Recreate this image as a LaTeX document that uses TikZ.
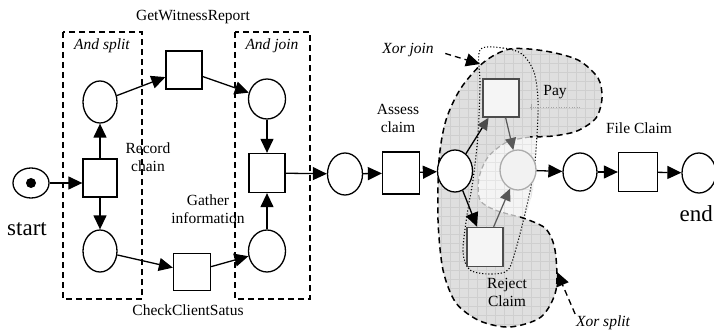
\documentclass[tikz,border=0pt]{standalone}
\usepackage{fontspec}
\setmainfont{Liberation Serif}
\usetikzlibrary{shapes.geometric,arrows.meta}
\begin{document}
\begin{tikzpicture}[x=1pt,y=-1pt,
  place/.style={draw,ellipse,line width=1.3pt,fill=white,minimum width=34pt,minimum height=42pt,inner sep=0pt},
  trans/.style={draw,rectangle,line width=1.3pt,fill=white,minimum width=36pt,minimum height=38pt,inner sep=0pt},
  arr/.style={line width=1.3pt,-{Triangle[length=14pt,width=13pt]}},
  garr/.style={line width=1.2pt,draw=gray!70!black,-{Triangle[length=12pt,width=11pt,color=gray!70!black]}},
  lbl/.style={font=\fontsize{15.5}{18}\selectfont,align=center,inner sep=0pt},
  ilbl/.style={font=\fontsize{15.5}{18}\selectfont\itshape,align=center,inner sep=0pt},
  biglbl/.style={font=\fontsize{23}{26}\selectfont,inner sep=0pt},
  grpbox/.style={draw,line width=1.4pt,dash pattern=on 6pt off 4pt},
  blobpath/.style={insert path={plot[smooth] coordinates {(520,217) (545,228) (555,250) (556,290) (541,317) (510,327) (480,321) (456,303) (443,270) (438,220) (439,160) (446,120) (461,88) (484,62) (510,49) (545,51) (578,60) (598,78) (602,98) (596,118) (577,131) (553,136) (530,137)} -- plot[smooth] coordinates {(530,137) (507,142) (488,157) (479,178) (480,200) (495,210) (520,217)} -- cycle}},
  midpath/.style={insert path={plot[smooth] coordinates {(530,137) (507,142) (488,157) (479,178) (480,200) (495,210) (520,217)} -- (526,216) -- plot[smooth] coordinates {(526,216) (533,190) (536,160) (537,137)} -- cycle}}
]
\useasboundingbox (0,0) rectangle (714,331);

% grey regions
\fill[gray!25,blobpath];
\begin{scope}
  \clip[blobpath];
  \draw[gray!38,line width=0.4pt] (430,40) grid[step=9pt] (610,335);
\end{scope}
\fill[gray!9,midpath];
\begin{scope}
  \clip[midpath];
  \draw[gray!20,line width=0.4pt] (470,130) grid[step=9pt] (540,220);
\end{scope}
% outlines
\draw[line width=1.5pt,dash pattern=on 6pt off 4pt] plot[smooth] coordinates {(520,217) (545,228) (555,250) (556,290) (541,317) (510,327) (480,321) (456,303) (443,270) (438,220) (439,160) (446,120) (461,88) (484,62) (510,49) (545,51) (578,60) (598,78) (602,98) (596,118) (577,131) (553,136) (530,137)};
\draw[gray!65,line width=1.2pt,dash pattern=on 5pt off 3pt] plot[smooth] coordinates {(530,137) (507,142) (488,157) (479,178) (480,200) (495,210) (520,217)};
\draw[line width=1.1pt,dotted] plot[smooth cycle] coordinates {(480,50) (503,48) (522,54) (534,72) (538,100) (537,135) (534,170) (527,205) (517,245) (508,270) (490,274) (470,270) (463,252) (467,215) (473,180) (478,135) (480,85)};
\draw[gray!70,line width=0.6pt,dotted] (530,107) -- (580,107);
\draw[gray!70,line width=0.6pt] (531,104) -- (531,110);

% group boxes
\draw[grpbox] (63,32) rectangle (142,299);
\draw[grpbox] (235,32) rectangle (310,299);

% nodes
\node[draw,ellipse,line width=1.3pt,minimum width=36pt,minimum height=30pt,inner sep=0pt] (start) at (31,183) {};
\node[circle,fill=black,minimum size=10pt,inner sep=0pt] (tok) at (31,183) {};
\node[trans,minimum width=34pt] (rc) at (100,178) {};
\node[place] (p1) at (100,102) {};
\node[place] (p2) at (100,251) {};
\node[trans] (gw) at (184,70) {};
\node[trans,minimum width=37pt,minimum height=37pt] (cc) at (192,272) {};
\node[place,minimum width=37pt,minimum height=40pt] (p3) at (267,99) {};
\node[trans,minimum height=39pt] (aj) at (267,173) {};
\node[place,minimum width=37pt,minimum height=42pt] (p4) at (267,251) {};
\node[place,minimum width=35pt] (p5) at (345,174) {};
\node[trans,minimum width=37pt,minimum height=42pt] (ac) at (401,173) {};
\node[place,minimum width=35pt] (px) at (455,171) {};
\node[trans,fill=gray!8,draw=gray!60!black,line width=1.5pt] (pay) at (501,98) {};
\node[place,fill=gray!10,draw=gray!65,line width=1.3pt,minimum width=36pt,minimum height=40pt] (pm) at (518,170) {};
\node[trans,fill=gray!8,draw=gray!60!black,line width=1.5pt,minimum height=39pt] (rej) at (485,247) {};
\node[place,minimum height=38pt] (p6) at (580,172) {};
\node[trans,minimum width=39pt,minimum height=39pt] (fc) at (638,172) {};
\node[place,minimum height=40pt] (pend) at (699,173) {};

% labels
\node[lbl] (lgw) at (193,17) {GetWitnessReport};
\node[lbl] (lcc) at (188,310) {CheckClientSatus};
\node[lbl] (lrc) at (148,157) {Record\\chain};
\node[lbl] (lgi) at (208,209) {Gather\\information};
\node[ilbl] (las) at (102,46) {And split};
\node[ilbl] (laj) at (272,46) {And join};
\node[lbl] (lac) at (398,118) {Assess\\claim};
\node[ilbl] (xj) at (408,50) {Xor join};
\node[lbl] (lpay) at (555,92) {Pay};
\node[lbl] (lfc) at (639,128) {File Claim};
\node[lbl] (lrej) at (507,292) {Reject\\Claim};
\node[ilbl] (xs) at (603,323) {Xor split};
\node[biglbl] (lstart) at (27,229) {start};
\node[biglbl,anchor=east] (lend) at (713,214) {end};

% arcs
\draw[arr] (start.east) -- (rc.west |- start.east);
\draw[arr] (rc) -- (p1);
\draw[arr] (rc) -- (p2);
\draw[arr] (p1) -- (gw);
\draw[arr] (gw) -- (p3);
\draw[arr] (p2) -- (cc);
\draw[arr] (cc) -- (p4);
\draw[arr] (p3) -- (aj);
\draw[arr] (p4) -- (aj);
\draw[arr] (aj) -- (p5);
\draw[arr] (p5) -- (ac);
\draw[arr] (ac) -- (px);
\draw[line width=1.3pt,-{Triangle[length=12pt,width=11pt,color=gray!60!black]}] (px) -- (pay);
\draw[arr] (px) -- (rej);
\draw[garr] (pay) -- (pm);
\draw[garr] (rej) -- (pm);
\draw[arr] (pm) -- (p6);
\draw[arr] (p6) -- (fc);
\draw[arr] (fc) -- (pend);

% annotation arrows
\coordinate (xjtip) at (480,64);
\coordinate (xstip) at (557,272);
\draw[arr,dash pattern=on 6pt off 4pt,shorten <=12pt] (xj.east) -- (xjtip);
\draw[arr,dash pattern=on 6pt off 4pt,shorten <=2pt] (xs.north west) -- (xstip);
\end{tikzpicture}
\end{document}
